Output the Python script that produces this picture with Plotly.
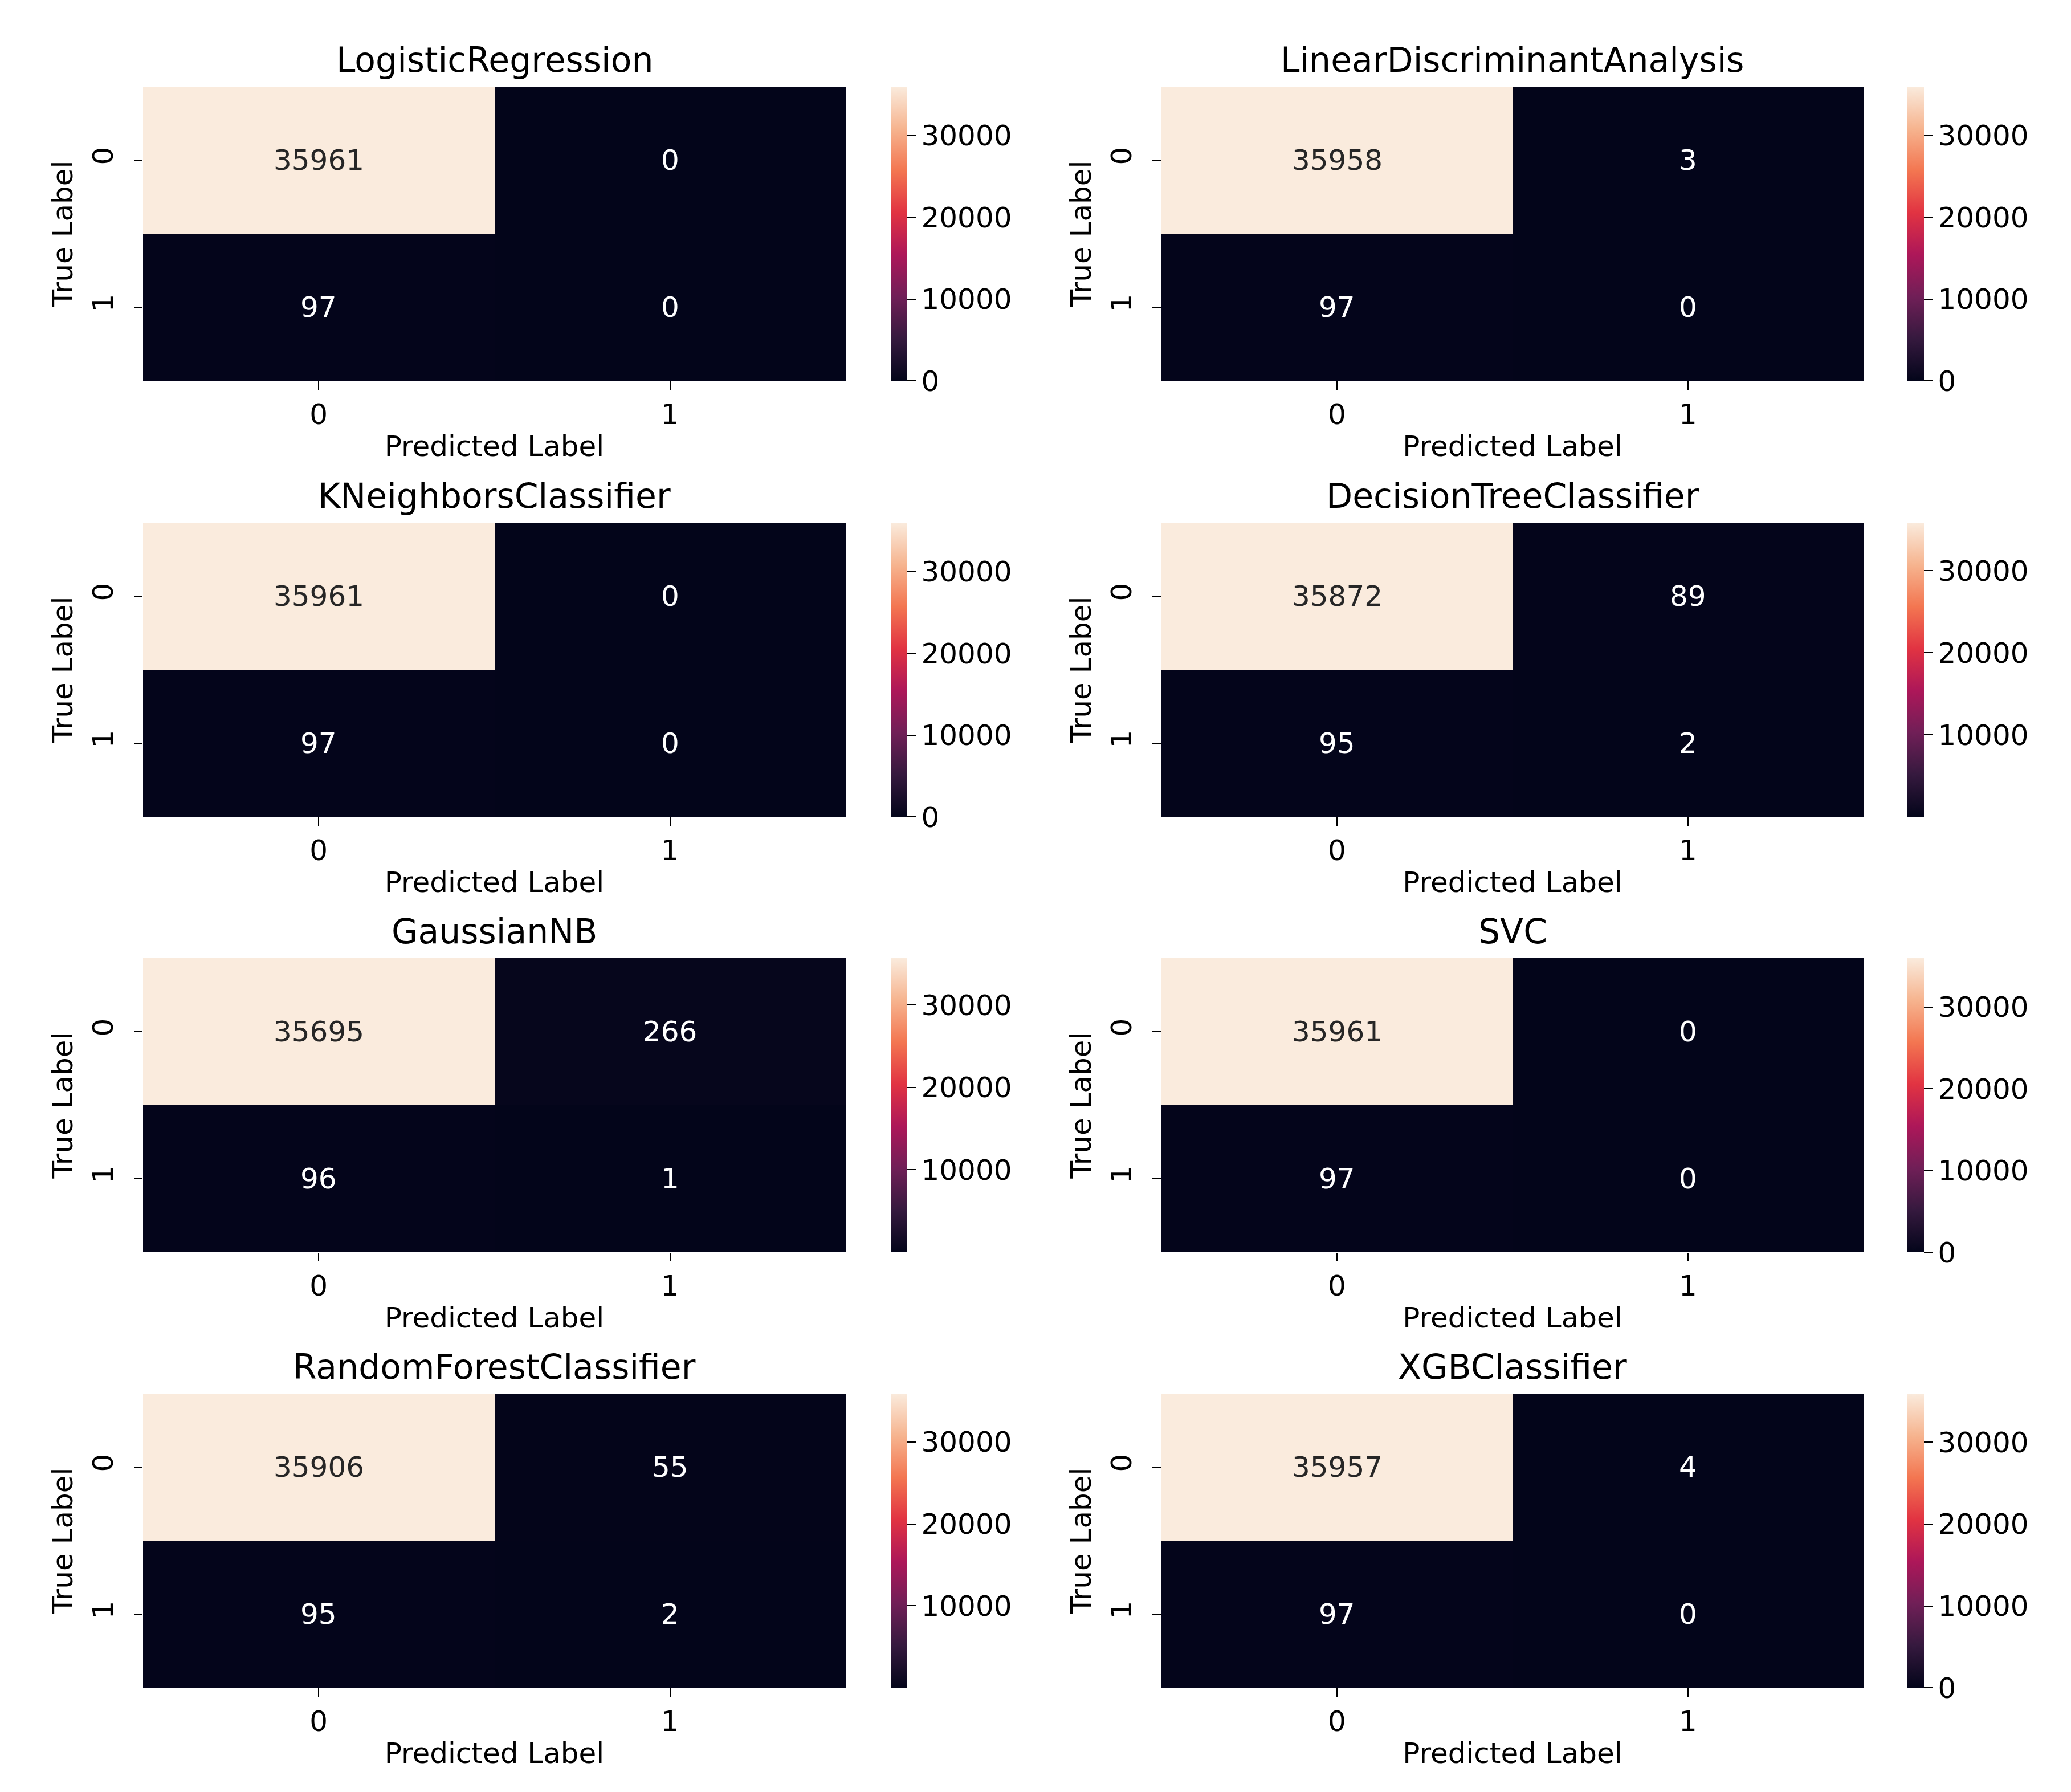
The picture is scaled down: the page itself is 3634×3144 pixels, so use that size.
import plotly.graph_objects as go

# ---------------- data ----------------
model_names = ["LogisticRegression", "LinearDiscriminantAnalysis",
               "KNeighborsClassifier", "DecisionTreeClassifier",
               "GaussianNB", "SVC",
               "RandomForestClassifier", "XGBClassifier"]
true_neg = [35961, 35958, 35961, 35872, 35695, 35961, 35906, 35957]
false_pos = [0, 3, 0, 89, 266, 0, 55, 4]
false_neg = [97, 97, 97, 95, 96, 97, 95, 97]
true_pos = [0, 0, 0, 2, 1, 0, 2, 0]
class_labels = [0, 1]
cbar_ticks = [0, 10000, 20000, 30000]

# ---------------- style ----------------
W, H = 3634, 3144
FONT = "DejaVu Sans"
TICK_SIZE = 50
TITLE_SIZE = 60
rocket = [
    [0.0, "#03051a"],
    [1 / 7, "#35193e"],
    [2 / 7, "#701f57"],
    [3 / 7, "#ad1759"],
    [4 / 7, "#e13342"],
    [5 / 7, "#f37651"],
    [6 / 7, "#f6b48f"],
    [1.0, "#faebdd"],
]

col_x = [(243, 1476), (2030, 3262)]
cb_left = [1555, 3339]
cb_width = 29
row_top = [144, 909, 1673, 2437]
row_h = 516

fig = go.Figure()
annotations = []
layout = {}

for i, name in enumerate(model_names):
    r, c = divmod(i, 2)
    z = [[true_neg[i], false_pos[i]], [false_neg[i], true_pos[i]]]
    flat = [v for row in z for v in row]
    zmin, zmax = min(flat), max(flat)
    sfx = "" if i == 0 else str(i + 1)
    ca = "coloraxis" + sfx
    xa, ya = "x" + sfx, "y" + sfx

    fig.add_trace(go.Heatmap(
        z=z, x=class_labels, y=class_labels, coloraxis=ca,
        xaxis=xa, yaxis=ya, hoverinfo="z",
    ))

    x0, x1 = col_x[c]
    top = row_top[r]
    bot = top + row_h
    layout["xaxis" + sfx] = dict(
        domain=[x0 / W, x1 / W], anchor=ya, range=[-0.5, 1.5],
        tickvals=class_labels, ticktext=[str(v) for v in class_labels],
        ticks="outside", ticklen=15, tickwidth=2, tickcolor="black",
        tickfont=dict(size=TICK_SIZE, color="black", family=FONT),
        showgrid=False, zeroline=False, showline=False,
        title=dict(text="Predicted Label", standoff=9,
                   font=dict(size=TICK_SIZE, color="black", family=FONT)),
    )
    layout["yaxis" + sfx] = dict(
        domain=[1 - bot / H, 1 - top / H], anchor=xa, range=[1.5, -0.5],
        tickvals=class_labels, ticktext=[str(v) for v in class_labels],
        tickangle=-90, ticklabelstandoff=17,
        ticks="outside", ticklen=15, tickwidth=2, tickcolor="black",
        tickfont=dict(size=TICK_SIZE, color="black", family=FONT),
        showgrid=False, zeroline=False, showline=False,
        title=dict(text="True Label", standoff=8,
                   font=dict(size=TICK_SIZE, color="black", family=FONT)),
    )
    shown_ticks = [t for t in cbar_ticks if zmin <= t <= zmax]
    layout[ca] = dict(
        cmin=zmin, cmax=zmax, colorscale=rocket,
        colorbar=dict(
            x=cb_left[c] / W, xanchor="left", xpad=0, ypad=0,
            y=1 - bot / H, yanchor="bottom",
            len=row_h / H, lenmode="fraction",
            thickness=cb_width, thicknessmode="pixels",
            outlinewidth=0,
            tickvals=shown_ticks, ticktext=[str(v) for v in shown_ticks],
            ticks="outside", ticklen=15, tickwidth=2, tickcolor="black",
            tickfont=dict(size=TICK_SIZE, color="black", family=FONT),
        ),
    )

    # cell value annotations
    span = zmax - zmin if zmax > zmin else 1
    for ri in range(2):
        for ci in range(2):
            v = z[ri][ci]
            light = (v - zmin) / span > 0.6
            annotations.append(dict(
                x=class_labels[ci], y=class_labels[ri], xref=xa, yref=ya,
                text=str(v), showarrow=False,
                font=dict(size=TICK_SIZE, family=FONT,
                          color="#262626" if light else "white"),
            ))

    # subplot title
    annotations.append(dict(
        x=(x0 + x1) / 2 / W, y=1 - top / H, xref="paper", yref="paper",
        xanchor="center", yanchor="bottom", yshift=10,
        text=name, showarrow=False,
        font=dict(size=TITLE_SIZE, color="black", family=FONT),
    ))

fig.update_layout(
    width=W, height=H, autosize=False,
    margin=dict(l=0, r=0, t=0, b=0),
    paper_bgcolor="white", plot_bgcolor="white",
    font=dict(family=FONT, color="black"),
    annotations=annotations,
    showlegend=False,
    **layout,
)

fig.write_html("out.html")
